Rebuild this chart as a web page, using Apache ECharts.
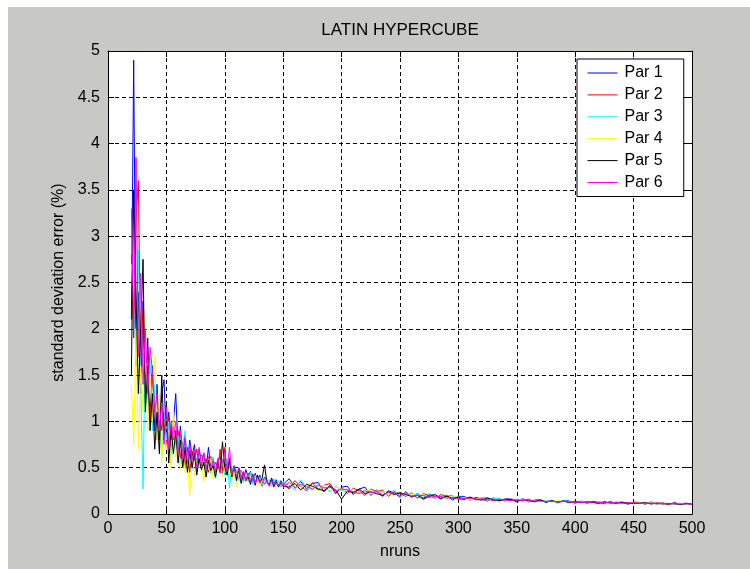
<!DOCTYPE html>
<html>
<head>
<meta charset="utf-8">
<title>LATIN HYPERCUBE</title>
<script src="https://cdn.jsdelivr.net/npm/echarts@6/dist/echarts.min.js"></script>
<style>
  html, body { margin: 0; padding: 0; background: #ffffff; }
  #chart {
    position: absolute;
    left: 8px;
    top: 7px;
    width: 742px;
    height: 562px;
    background: #c8c8c5;
  }
</style>
</head>
<body>
<div id="chart"></div>
<script>
// number of runs (x)
var nruns = [
  20, 22, 24, 26, 28, 30, 32, 34, 36, 38,
  40, 42, 44, 46, 48, 50, 52, 54, 56, 58,
  60, 62, 64, 66, 68, 70, 72, 74, 76, 78,
  80, 82, 84, 86, 88, 90, 92, 94, 96, 98,
  100, 102, 104, 106, 108, 110, 112, 114, 116, 118,
  120, 122, 124, 126, 128, 130, 132, 134, 136, 138,
  140, 142, 144, 146, 148, 150,
  155, 160, 165, 170, 175, 180, 185, 190, 195, 200,
  205, 210, 215, 220, 225, 230, 235, 240, 245, 250,
  255, 260, 265, 270, 275, 280, 285, 290, 295, 300,
  305, 310, 315, 320, 325, 330, 335, 340, 345, 350,
  355, 360, 365, 370, 375, 380, 385, 390, 395, 400,
  405, 410, 415, 420, 425, 430, 435, 440, 445, 450,
  455, 460, 465, 470, 475, 480, 485, 490, 495, 500
];

// standard deviation error (%) per parameter
var par1 = [
  2.1, 4.9, 1.6, 2.4, 1.3, 2.3, 1.2, 1.9, 1.1, 1.6,
  0.9, 1.4, 0.8, 1.3, 1.45, 0.75, 1.1, 0.8, 1.0, 1.3,
  0.7, 0.95, 0.6, 0.85, 0.55, 0.8, 0.62, 0.75, 0.5, 0.7,
  0.55, 0.66, 0.48, 0.72, 0.5, 0.6, 0.45, 0.58, 0.62, 0.44,
  0.56, 0.42, 0.6, 0.4, 0.52, 0.38, 0.5, 0.43, 0.36, 0.48,
  0.4, 0.46, 0.34, 0.44, 0.37, 0.42, 0.33, 0.4, 0.36, 0.31,
  0.39, 0.33, 0.37, 0.3, 0.36, 0.32,
  0.38, 0.29, 0.35, 0.27, 0.33, 0.34, 0.24, 0.31, 0.22, 0.29,
  0.3, 0.21, 0.27, 0.29, 0.2, 0.26, 0.19, 0.25, 0.23, 0.18,
  0.24, 0.18, 0.22, 0.17, 0.21, 0.2, 0.16, 0.2, 0.15, 0.19,
  0.19, 0.15, 0.18, 0.16, 0.14, 0.175, 0.14, 0.165, 0.16, 0.13,
  0.165, 0.13, 0.155, 0.15, 0.125, 0.15, 0.12, 0.145, 0.14, 0.115,
  0.14, 0.115, 0.135, 0.13, 0.11, 0.135, 0.115, 0.13, 0.105, 0.128,
  0.125, 0.105, 0.13, 0.11, 0.12, 0.1, 0.122, 0.105, 0.118, 0.1
];
var par2 = [
  2.8, 1.9, 3.2, 3.6, 1.5, 2.2, 1.3, 1.8, 1.0, 1.5,
  1.25, 0.8, 1.2, 0.9, 1.1, 0.7, 1.05, 0.65, 0.95, 0.75,
  0.9, 0.6, 0.78, 0.5, 0.72, 0.45, 0.68, 0.58, 0.7, 0.5,
  0.64, 0.52, 0.6, 0.45, 0.62, 0.5, 0.56, 0.48, 0.7, 0.46,
  0.72, 0.44, 0.55, 0.4, 0.5, 0.46, 0.38, 0.47, 0.42, 0.35,
  0.44, 0.37, 0.42, 0.33, 0.41, 0.36, 0.3, 0.38, 0.35, 0.32,
  0.36, 0.29, 0.35, 0.32, 0.3, 0.34,
  0.27, 0.36, 0.3, 0.25, 0.34, 0.26, 0.31, 0.33, 0.23, 0.28,
  0.22, 0.28, 0.25, 0.2, 0.27, 0.24, 0.26, 0.19, 0.24, 0.22,
  0.19, 0.23, 0.17, 0.22, 0.2, 0.17, 0.21, 0.19, 0.2, 0.16,
  0.16, 0.185, 0.15, 0.17, 0.175, 0.14, 0.165, 0.14, 0.16, 0.155,
  0.14, 0.16, 0.13, 0.155, 0.135, 0.145, 0.125, 0.14, 0.12, 0.14,
  0.12, 0.135, 0.125, 0.11, 0.132, 0.118, 0.128, 0.125, 0.112, 0.125,
  0.112, 0.124, 0.108, 0.12, 0.115, 0.105, 0.12, 0.108, 0.113, 0.11
];
var par3 = [
  2.7, 2.2, 1.8, 2.85, 1.4, 0.27, 1.9, 1.2, 1.7, 0.9,
  1.4, 0.85, 1.2, 0.6, 1.1, 0.8, 1.0, 0.55, 0.9, 0.7,
  0.85, 0.5, 0.75, 0.9, 0.55, 0.7, 0.48, 0.66, 0.45, 0.62,
  0.5, 0.6, 0.4, 0.56, 0.44, 0.62, 0.38, 0.54, 0.46, 0.58,
  0.42, 0.6, 0.28, 0.52, 0.4, 0.48, 0.36, 0.46, 0.34, 0.44,
  0.35, 0.45, 0.32, 0.42, 0.34, 0.4, 0.31, 0.39, 0.33, 0.37,
  0.3, 0.38, 0.31, 0.36, 0.29, 0.35,
  0.31, 0.26, 0.37, 0.28, 0.26, 0.32, 0.29, 0.24, 0.3, 0.25,
  0.27, 0.23, 0.22, 0.26, 0.21, 0.25, 0.24, 0.2, 0.26, 0.19,
  0.22, 0.2, 0.21, 0.18, 0.22, 0.17, 0.2, 0.17, 0.19, 0.18,
  0.18, 0.16, 0.155, 0.18, 0.15, 0.165, 0.17, 0.145, 0.15, 0.16,
  0.155, 0.135, 0.15, 0.13, 0.145, 0.14, 0.125, 0.145, 0.13, 0.125,
  0.135, 0.12, 0.118, 0.135, 0.12, 0.128, 0.115, 0.13, 0.122, 0.11,
  0.122, 0.115, 0.12, 0.104, 0.118, 0.112, 0.106, 0.116, 0.104, 0.112
];
var par4 = [
  1.4, 0.75, 2.0, 0.7, 1.6, 1.1, 2.2, 0.9, 1.5, 1.0,
  1.7, 0.8, 1.3, 0.55, 1.0, 0.7, 0.9, 0.5, 1.1, 0.6,
  0.75, 0.5, 0.68, 0.45, 0.62, 0.2, 0.6, 0.42, 0.58, 0.5,
  0.62, 0.35, 0.55, 0.48, 0.6, 0.38, 0.52, 0.45, 0.58, 0.4,
  0.5, 0.42, 0.55, 0.36, 0.48, 0.3, 0.46, 0.38, 0.44, 0.34,
  0.42, 0.36, 0.4, 0.33, 0.39, 0.3, 0.37, 0.32, 0.38, 0.3,
  0.36, 0.31, 0.35, 0.3, 0.34, 0.29,
  0.35, 0.3, 0.27, 0.33, 0.28, 0.25, 0.31, 0.26, 0.29, 0.27,
  0.24, 0.27, 0.23, 0.25, 0.26, 0.21, 0.24, 0.23, 0.2, 0.24,
  0.2, 0.22, 0.19, 0.21, 0.18, 0.2, 0.18, 0.16, 0.2, 0.17,
  0.175, 0.155, 0.17, 0.165, 0.15, 0.16, 0.15, 0.165, 0.14, 0.15,
  0.15, 0.14, 0.155, 0.135, 0.14, 0.13, 0.145, 0.13, 0.135, 0.12,
  0.13, 0.132, 0.118, 0.128, 0.125, 0.115, 0.126, 0.118, 0.128, 0.116,
  0.12, 0.11, 0.122, 0.112, 0.108, 0.118, 0.11, 0.115, 0.108, 0.105
];
var par5 = [
  1.5, 3.5, 2.4, 1.3, 2.0, 2.75, 1.1, 1.6, 0.9, 1.3,
  0.7, 1.1, 0.65, 1.5, 0.8, 1.2, 0.55, 0.95, 0.65, 0.9,
  0.55, 0.8, 0.5, 0.72, 0.45, 0.68, 0.5, 0.66, 0.42, 0.6,
  0.48, 0.56, 0.4, 0.58, 0.47, 0.52, 0.4, 0.55, 0.45, 0.78,
  0.5, 0.42, 0.58, 0.4, 0.52, 0.36, 0.48, 0.33, 0.45, 0.36,
  0.4, 0.32, 0.43, 0.31, 0.42, 0.34, 0.39, 0.53, 0.35, 0.31,
  0.37, 0.3, 0.35, 0.29, 0.34, 0.3,
  0.29, 0.33, 0.26, 0.32, 0.3, 0.27, 0.25, 0.3, 0.26, 0.16,
  0.25, 0.23, 0.27, 0.22, 0.24, 0.22, 0.2, 0.24, 0.21, 0.23,
  0.21, 0.19, 0.2, 0.16, 0.19, 0.21, 0.17, 0.19, 0.17, 0.18,
  0.16, 0.18, 0.16, 0.15, 0.17, 0.155, 0.145, 0.16, 0.155, 0.14,
  0.15, 0.145, 0.135, 0.15, 0.13, 0.14, 0.13, 0.14, 0.125, 0.13,
  0.125, 0.13, 0.125, 0.12, 0.13, 0.12, 0.118, 0.124, 0.12, 0.112,
  0.116, 0.12, 0.11, 0.116, 0.108, 0.114, 0.11, 0.104, 0.112, 0.106
];
var par6 = [
  3.3, 2.0, 3.85, 1.7, 2.6, 1.4, 2.0, 1.3, 1.8, 1.55,
  1.1, 1.3, 0.9, 1.2, 0.75, 1.15, 0.7, 1.0, 0.8, 1.0,
  0.65, 0.9, 0.6, 0.82, 0.55, 0.75, 0.58, 0.7, 0.5, 0.72,
  0.52, 0.66, 0.48, 0.62, 0.5, 0.58, 0.46, 0.6, 0.44, 0.56,
  0.68, 0.46, 0.72, 0.42, 0.52, 0.4, 0.49, 0.38, 0.46, 0.36,
  0.44, 0.35, 0.42, 0.33, 0.4, 0.34, 0.38, 0.32, 0.37, 0.3,
  0.36, 0.32, 0.34, 0.3, 0.35, 0.29,
  0.34, 0.28, 0.32, 0.3, 0.27, 0.31, 0.28, 0.29, 0.25, 0.27,
  0.26, 0.24, 0.22, 0.25, 0.23, 0.24, 0.21, 0.23, 0.22, 0.2,
  0.23, 0.19, 0.2, 0.2, 0.18, 0.19, 0.19, 0.17, 0.18, 0.165,
  0.17, 0.17, 0.16, 0.165, 0.155, 0.15, 0.16, 0.15, 0.145, 0.155,
  0.145, 0.15, 0.14, 0.14, 0.135, 0.14, 0.13, 0.135, 0.13, 0.128,
  0.128, 0.125, 0.13, 0.12, 0.125, 0.12, 0.125, 0.115, 0.122, 0.118,
  0.118, 0.114, 0.118, 0.11, 0.115, 0.11, 0.113, 0.108, 0.11, 0.104
];

var parNames = ["Par 1", "Par 2", "Par 3", "Par 4", "Par 5", "Par 6"];
var parColors = ["#0000ff", "#ff0000", "#00ffff", "#ffff00", "#000000", "#ff00ff"];
var parData = [par1, par2, par3, par4, par5, par6];

var font = "'Liberation Sans', Arial, sans-serif";

// dashed MATLAB style grid
var gridLine = { show: true, lineStyle: { color: "#000", width: 1, type: [4, 3] } };
var frameLine = { show: true, onZero: false, lineStyle: { color: "#000", width: 1 } };
var innerTick = { show: true, inside: true, length: 6, lineStyle: { color: "#000" } };

var series = parNames.map(function (name, k) {
  return {
    name: name,
    type: "line",
    symbol: "none",
    silent: true,
    lineStyle: { width: 1, color: parColors[k] },
    itemStyle: { color: parColors[k] },
    data: nruns.map(function (x, i) { return [x, parData[k][i]]; })
  };
});

var chart = echarts.init(document.getElementById("chart"));
chart.setOption({
  animation: false,
  backgroundColor: "#c8c8c5",
  textStyle: { fontFamily: font },
  legend: {
    orient: "vertical",
    left: 569,
    top: 52,
    data: parNames,
    itemWidth: 30,
    itemHeight: 14,
    itemGap: 5.9,
    padding: [6, 21, 6, 10],
    backgroundColor: "#ffffff",
    borderColor: "#000",
    borderWidth: 1,
    borderRadius: 0,
    // only the line in the key, no marker
    itemStyle: { opacity: 0 },
    lineStyle: { width: 1 },
    textStyle: { fontFamily: font, fontSize: 16, color: "#000", padding: [0, 0, 0, 2] }
  },
  grid: {
    left: 100,
    top: 44,
    width: 584,
    height: 463,
    show: true,
    backgroundColor: "#ffffff",
    borderWidth: 0
  },
  xAxis: [
    {
      type: "value",
      min: 0,
      max: 500,
      interval: 50,
      name: "nruns",
      nameLocation: "middle",
      nameGap: 30,
      nameTextStyle: { fontFamily: font, fontSize: 16, color: "#000" },
      axisLine: frameLine,
      axisTick: innerTick,
      axisLabel: { margin: 7, fontFamily: font, fontSize: 16, color: "#000" },
      splitLine: gridLine
    },
    {
      // top frame; its name is the plot title, centred over the axes
      type: "value",
      position: "top",
      min: 0,
      max: 500,
      interval: 50,
      name: "LATIN HYPERCUBE",
      nameLocation: "middle",
      nameGap: 12,
      nameTextStyle: { fontFamily: font, fontSize: 17, color: "#000" },
      axisLine: frameLine,
      axisTick: innerTick,
      axisLabel: { show: false },
      splitLine: { show: false }
    }
  ],
  yAxis: [
    {
      type: "value",
      min: 0,
      max: 5,
      interval: 0.5,
      name: "standard deviation error (%)",
      nameLocation: "middle",
      nameGap: 38,
      nameTextStyle: { fontFamily: font, fontSize: 16, color: "#000" },
      axisLine: frameLine,
      axisTick: innerTick,
      axisLabel: { margin: 8, fontFamily: font, fontSize: 16, color: "#000" },
      splitLine: gridLine
    },
    {
      type: "value",
      position: "right",
      min: 0,
      max: 5,
      interval: 0.5,
      axisLine: frameLine,
      axisTick: innerTick,
      axisLabel: { show: false },
      splitLine: { show: false }
    }
  ],
  series: series
});
</script>
</body>
</html>
